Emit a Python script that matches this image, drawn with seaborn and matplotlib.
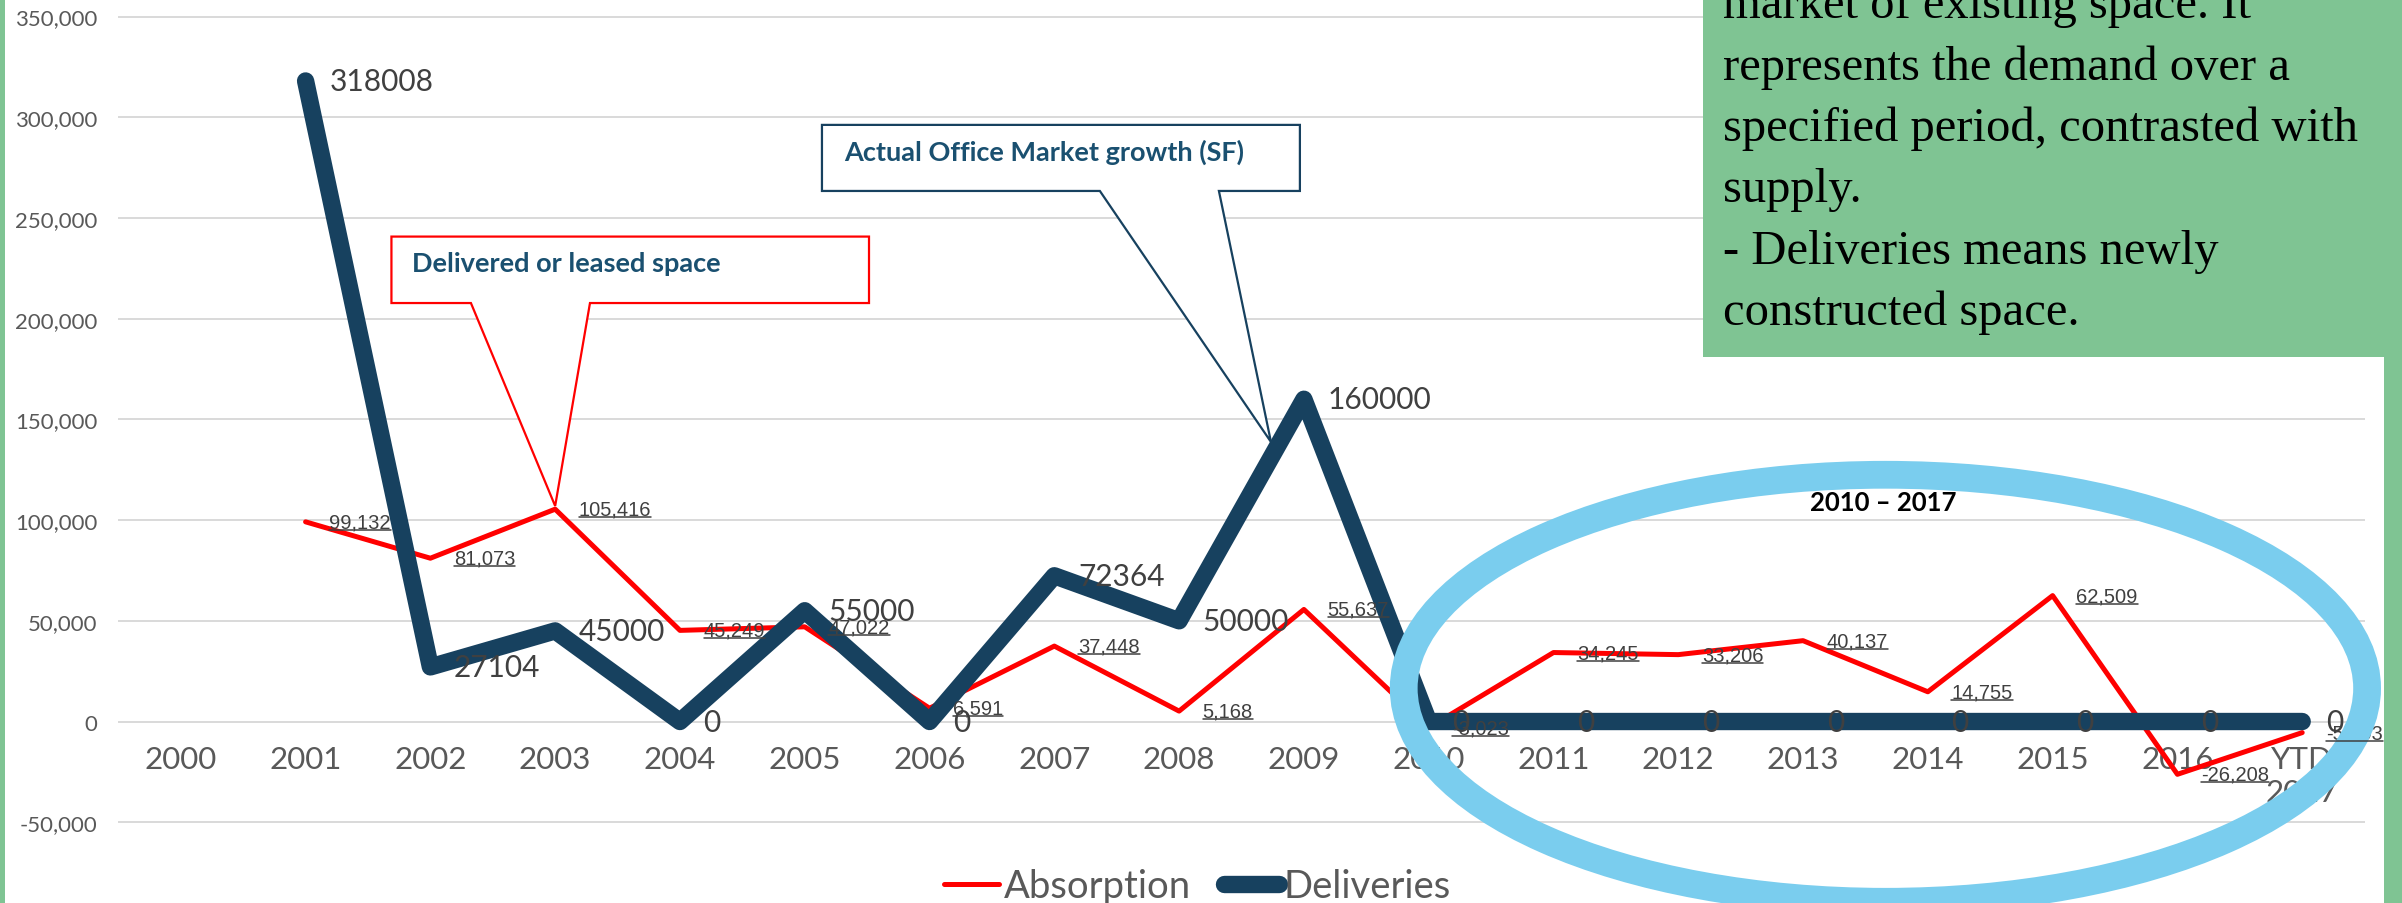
import numpy as np
import pandas as pd
import seaborn as sns
import matplotlib.pyplot as plt
from matplotlib.patches import Ellipse, Polygon, Rectangle
from matplotlib.lines import Line2D

# -------------------------------
# Data
# -------------------------------
years = ["2000", "2001", "2002", "2003", "2004", "2005", "2006", "2007", "2008",
         "2009", "2010", "2011", "2012", "2013", "2014", "2015", "2016", "YTD\n2017"]
absorption = [np.nan, 99132, 81073, 105416, 45249, 47022, 6591, 37448, 5168,
              55637, -3023, 34245, 33206, 40137, 14755, 62509, -26208, -5503]
deliveries = [np.nan, 318008, 27104, 45000, 0, 55000, 0, 72364, 50000,
              160000, 0, 0, 0, 0, 0, 0, 0, 0]

note_lines = ["market of existing space. It",
              "represents the demand over a",
              "specified period, contrasted with",
              "supply.",
              "- Deliveries means newly",
              "constructed space."]

df = pd.DataFrame({"idx": np.arange(len(years)),
                   "Absorption": absorption,
                   "Deliveries": deliveries})

# -------------------------------
# Style
# -------------------------------
RED = "#FF0000"
NAVY = "#17415F"
GRAY = "#595959"
LABEL = "#404040"
GREEN = "#7FC493"
SKY = "#7ACDEE"
TEAL = "#1A5070"

sns.set_theme(style="white")
plt.rcParams['font.family'] = ['Lato', 'DejaVu Sans']

W, H = 2402, 904
fig = plt.figure(figsize=(W / 100, H / 100), dpi=100)
ax = fig.add_axes([118.4 / W, 0, 2246.2 / W, 1])

# -------------------------------
# Lines
# -------------------------------
sns.lineplot(data=df, x="idx", y="Absorption", ax=ax, color=RED, linewidth=3.6,
             solid_capstyle="round", solid_joinstyle="round", label="Absorption", zorder=3)
sns.lineplot(data=df, x="idx", y="Deliveries", ax=ax, color=NAVY, linewidth=12.5,
             solid_capstyle="round", solid_joinstyle="round", label="Deliveries", zorder=4)

ax.set_xlim(-0.5, len(years) - 0.5)
ax.set_ylim(-90100, 358700)
ax.set_yticks(np.arange(-50000, 350001, 50000))
ax.yaxis.set_major_formatter(plt.FuncFormatter(lambda v, p: f"{v:,.0f}"))
ax.set_xticks(df["idx"])
ax.set_xticklabels(years)
ax.set_xlabel("")
ax.set_ylabel("")
ax.grid(axis="y", color="#D9D9D9", linewidth=1.4, zorder=0)
ax.set_axisbelow(True)
for s in ["top", "left", "right"]:
    ax.spines[s].set_visible(False)
ax.spines["bottom"].set_position(("data", 0))
ax.spines["bottom"].set_visible(False)
ax.tick_params(axis="x", length=0, pad=17, labelsize=22.5, labelcolor=GRAY)
ax.tick_params(axis="y", length=0, pad=15, labelsize=16, labelcolor=GRAY)
ax.patch.set_alpha(0)

# -------------------------------
# Data labels
# -------------------------------
abs_texts = []
for i, v in enumerate(absorption):
    if np.isnan(v):
        continue
    t = ax.annotate(f"{v:,.0f}", (i, v), xytext=(17, 0), textcoords="offset points",
                    ha="left", va="center", fontsize=14.5, color=LABEL,
                    family=["Liberation Sans Narrow", "Liberation Sans"], zorder=6)
    abs_texts.append(t)

for i, v in enumerate(deliveries):
    if np.isnan(v):
        continue
    ax.annotate(f"{v:.0f}", (i, v), xytext=(17, 0), textcoords="offset points",
                ha="left", va="center", fontsize=21.5, color=LABEL, zorder=6)

# -------------------------------
# Callouts
# -------------------------------
def callout(x0, x1, ytop, ybot, b1, b2, tip, edge, text, tx, ty):
    pts = [(x0, ytop), (x1, ytop), (x1, ybot), (b2, ybot), tip, (b1, ybot), (x0, ybot)]
    ax.add_patch(Polygon(pts, closed=True, facecolor="white", edgecolor=edge,
                         linewidth=1.6, zorder=7, clip_on=False))
    ax.text(tx, ty, text, ha="left", va="center", fontsize=19.5, fontweight="bold",
            color=TEAL, zorder=8)

callout(1.688, 5.515, 240750, 207760, 2.325, 3.279, (3.0, 107000), RED,
        "Delivered or leased space", 1.849, 227500)
callout(5.138, 8.968, 296200, 263400, 7.365, 8.319, (8.736, 138800), NAVY,
        "Actual Office Market growth (SF)", 5.314, 283000)

ax.add_patch(Ellipse((13.66, 16500), 7.72, 212000, fill=False, edgecolor=SKY,
                     linewidth=20, zorder=9, clip_on=False))
ax.text(13.64, 109000, "2010 \u2013 2017", ha="center", va="center", fontsize=18.5,
        fontweight="bold", color="black", zorder=10)

# -------------------------------
# Legend
# -------------------------------
handles, labels = ax.get_legend_handles_labels()
ax.get_legend().remove()
leg = fig.legend(handles, labels, loc="center", bbox_to_anchor=(1197.5 / W, 1 - 887 / H),
                 ncol=2, frameon=False, fontsize=27.5, handlelength=1.45,
                 handletextpad=0.12, columnspacing=0.85, labelcolor=GRAY)

# -------------------------------
# Green note panel and borders
# -------------------------------
fig.patches.append(Rectangle((1703 / W, 1 - 358 / H), 1, 358 / H, transform=fig.transFigure,
                             facecolor=GREEN, edgecolor="none", zorder=20))
fig.patches.append(Rectangle((2384 / W, 0), 1, 1, transform=fig.transFigure,
                             facecolor=GREEN, edgecolor="none", zorder=20))
fig.patches.append(Rectangle((0, 0), 5 / W, 1, transform=fig.transFigure,
                             facecolor=GREEN, edgecolor="none", zorder=20))
for line, base in zip(note_lines, [18, 80, 141, 202, 264, 325]):
    fig.text(1723 / W, 1 - base / H, line, ha="left", va="baseline", fontsize=35,
             family="Liberation Serif", color="black", zorder=21)

# -------------------------------
# Underline the absorption labels
# -------------------------------
fig.canvas.draw()
renderer = fig.canvas.get_renderer()
for t in abs_texts:
    bb = t.get_window_extent(renderer)
    y = bb.y0 + 1.5
    fig.add_artist(Line2D([bb.x0 / W, bb.x1 / W], [y / H, y / H], transform=fig.transFigure,
                          color=LABEL, linewidth=1.1, zorder=6))

fig.savefig("out.png", dpi=100)
plt.close(fig)
